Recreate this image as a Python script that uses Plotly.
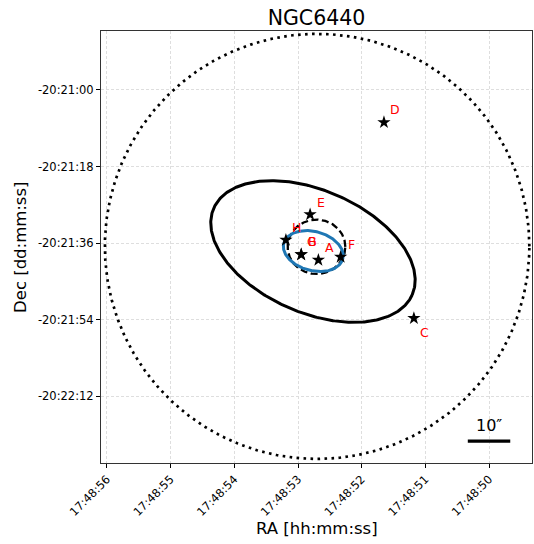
import numpy as np
import plotly.graph_objects as go

# ---------------- data ----------------
TITLE = "NGC6440"
STAR_NAMES = ["A", "B", "G", "C", "D", "E", "F", "H"]
STAR_RA = ["17:48:52.68", "17:48:52.95", "17:48:52.95", "17:48:51.18",
           "17:48:51.65", "17:48:52.81", "17:48:52.33", "17:48:53.19"]
STAR_DEC = ["-20:21:40.0", "-20:21:38.7", "-20:21:38.7", "-20:21:53.7",
            "-20:21:07.6", "-20:21:29.3", "-20:21:39.3", "-20:21:35.3"]

# ellipses: centre RA, centre Dec, semi-axis a ["], semi-axis b ["], angle [deg]
ELL_RA = ["17:48:52.70", "17:48:52.71", "17:48:52.76", "17:48:52.765"]
ELL_DEC = ["-20:21:36.8", "-20:21:36.9", "-20:21:37.9", "-20:21:38.0"]
ELL_A = [50.0, 6.8, 7.2, 25.5]
ELL_B = [50.0, 6.4, 4.6, 14.4]
ELL_ANG = [0.0, 0.0, -15.0, -23.5]

RA_TICKS = ["17:48:56", "17:48:55", "17:48:54", "17:48:53",
            "17:48:52", "17:48:51", "17:48:50"]
DEC_TICKS = ["-20:21:00", "-20:21:18", "-20:21:36", "-20:21:54", "-20:22:12"]

SCALE_ARCSEC = 10.0
SCALE_RA = "17:48:50.00"
SCALE_DEC = "-20:22:22.6"

# ---------------- helpers ----------------
RA0 = 17 * 3600 + 48 * 60          # 17:48:00 in s
DEC0 = 20 * 3600 + 21 * 60         # 20:21:00 in arcsec (south)


def ra_sec(s):
    h, m, sec = s.split(":")
    return int(h) * 3600 + int(m) * 60 + float(sec) - RA0


def dec_off(s):
    d, m, sec = s.split(":")
    v = abs(int(d)) * 3600 + int(m) * 60 + float(sec)
    return -(v - DEC0)


def ellipse(ra_c, dec_c, a, b, ang):
    t = np.linspace(0, 2 * np.pi, 400)
    th = np.deg2rad(ang)
    dx = a * np.cos(t) * np.cos(th) - b * np.sin(t) * np.sin(th)
    dy = a * np.cos(t) * np.sin(th) + b * np.sin(t) * np.cos(th)
    return ra_c - dx / 15.0, dec_c + dy


FONT = "DejaVu Sans"
fig = go.Figure()

styles = [
    dict(color="black", width=2.7, dash="2.6px,4.4px"),
    dict(color="black", width=2.3, dash="7px,3.5px"),
    dict(color="#1f77b4", width=3),
    dict(color="black", width=3),
]
for i in range(len(ELL_A)):
    xs, ys = ellipse(ra_sec(ELL_RA[i]), dec_off(ELL_DEC[i]),
                     ELL_A[i], ELL_B[i], ELL_ANG[i])
    fig.add_trace(go.Scatter(x=xs, y=ys, mode="lines", line=styles[i],
                             hoverinfo="skip", showlegend=False))

sx = [ra_sec(r) for r in STAR_RA]
sy = [dec_off(d) for d in STAR_DEC]
fig.add_trace(go.Scatter(x=sx, y=sy, mode="markers",
                         marker=dict(symbol="star", size=10, color="black",
                                     line=dict(width=0)),
                         showlegend=False))

for name, x, y in zip(STAR_NAMES, sx, sy):
    fig.add_annotation(x=x, y=y, text=name, showarrow=False,
                       xshift=11, yshift=(-14 if name == "C" else 12.5),
                       font=dict(family=FONT, size=12.5, color="red"))

# scale bar
bx = ra_sec(SCALE_RA)
by = dec_off(SCALE_DEC)
half = SCALE_ARCSEC / 15.0 / 2.0
fig.add_trace(go.Scatter(x=[bx + half, bx - half], y=[by, by], mode="lines",
                         line=dict(color="black", width=3.2),
                         hoverinfo="skip", showlegend=False))
fig.add_annotation(x=bx, y=by, text="10″", showarrow=False, yshift=16,
                   font=dict(family=FONT, size=16, color="black"))

axis_common = dict(
    showline=True, mirror=True, linecolor="#333333", linewidth=1,
    ticks="outside", ticklen=4, tickcolor="black", tickwidth=1,
    showgrid=True, gridcolor="#dedede", gridwidth=0.8, griddash="3px,2px",
    zeroline=False, tickfont=dict(family=FONT, size=11.5, color="black"),
)

fig.update_xaxes(range=[56.094, 49.325], tickvals=[ra_sec(t) for t in RA_TICKS],
                 ticktext=RA_TICKS, tickangle=-45, **axis_common)
fig.update_yaxes(range=[-87.76, 13.88], tickvals=[dec_off(t) for t in DEC_TICKS],
                 ticktext=DEC_TICKS, **axis_common)

fig.add_annotation(xref="paper", yref="paper", x=0.5, y=-0.1505,
                   text="RA [hh:mm:ss]", showarrow=False,
                   font=dict(family=FONT, size=16.5, color="black"),
                   xanchor="center", yanchor="middle")
fig.add_annotation(xref="paper", yref="paper", x=-0.188, y=0.5,
                   text="Dec [dd:mm:ss]", showarrow=False, textangle=-90,
                   font=dict(family=FONT, size=16.5, color="black"),
                   xanchor="center", yanchor="middle")

fig.update_layout(
    width=534, height=544,
    margin=dict(l=101, r=2, t=31, b=81),
    plot_bgcolor="white", paper_bgcolor="white",
    title=dict(text=TITLE, x=0.5, xref="paper", y=1 - 17.5 / 544,
               yref="container", xanchor="center", yanchor="middle",
               font=dict(family=FONT, size=20.5, color="black")),
    showlegend=False,
)

fig.write_html("out.html")
